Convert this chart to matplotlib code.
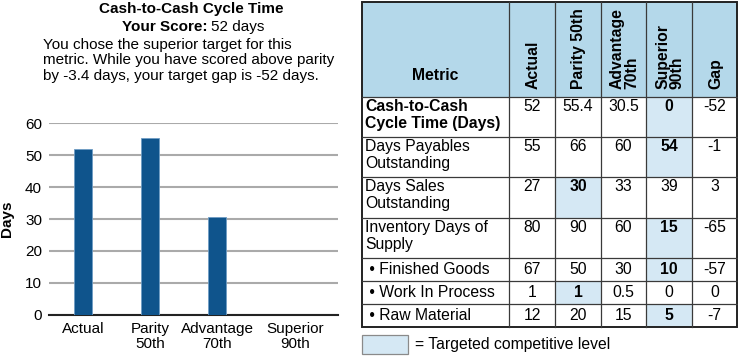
import matplotlib.pyplot as plt
from matplotlib.patches import Rectangle
from matplotlib.transforms import ScaledTranslation

plt.rcParams['font.family'] = ['Liberation Sans', 'DejaVu Sans']

# bar chart data
categories = ['Actual', 'Parity\n50th', 'Advantage\n70th', 'Superior\n90th']
scores = [52, 55.4, 30.5, 0]

# table data
col_headers = ['Actual', 'Parity 50th', 'Advantage\n70th', 'Superior\n90th', 'Gap']
metrics = ['Cash-to-Cash\nCycle Time (Days)', 'Days Payables\nOutstanding',
           'Days Sales\nOutstanding', 'Inventory Days of\nSupply',
           ' \u2022 Finished Goods', ' \u2022 Work In Process', ' \u2022 Raw Material']
actual = [52, 55, 27, 80, 67, 1, 12]
parity = [55.4, 66, 30, 90, 50, 1, 20]
advantage = [30.5, 60, 33, 60, 30, 0.5, 15]
superior = [0, 54, 39, 15, 10, 0, 5]
gap = [-52, -1, 3, -65, -57, 0, -7]
target_col = [3, 3, 1, 3, 3, 1, 3]   # which value column is the targeted level

bar_color = '#0f548c'
head_color = '#b4d8ea'
hi_color = '#d5e8f4'
line_color = '#3a3a3a'
fs = 11
tfs = 11.3

fig = plt.figure(figsize=(7.38, 3.58), dpi=100)
W, H = 738, 358

# ---- bar chart ----
ax = fig.add_axes([49 / W, (H - 315) / H, (338 - 49) / W, (315 - 123) / H])
x = range(len(categories))
ax.bar(x, scores, width=0.27, color=bar_color, edgecolor='#6f9cc4', linewidth=0.6, zorder=3)
ax.set_ylim(0, 60)
ax.set_xlim(-0.51, 3.8)
ax.set_yticks(range(0, 61, 10))
ax.yaxis.grid(True, color='#aaaaaa', linewidth=1.5, zorder=0)
ax.set_xticks(list(x))
ax.set_xticklabels(categories, fontsize=fs, linespacing=1.1)
ax.tick_params(axis='both', length=0, labelsize=fs, pad=5)
for s in ['top', 'right', 'left']:
    ax.spines[s].set_visible(False)
ax.spines['bottom'].set_color('#222222')
ax.spines['bottom'].set_linewidth(1.5)
ax.set_ylabel('Days', fontsize=fs, fontweight='bold', labelpad=8)
# the last label sits a bit right of its slot in the original
lab = ax.get_xticklabels()[-1]
lab.set_transform(lab.get_transform() + ScaledTranslation(0.11, 0, fig.dpi_scale_trans))

# ---- overlay in pixel coords for texts and table ----
ov = fig.add_axes([0, 0, 1, 1], zorder=5)
ov.set_xlim(0, W)
ov.set_ylim(H, 0)
ov.axis('off')
ov.patch.set_alpha(0)

ov.text(191, 9, 'Cash-to-Cash Cycle Time', ha='center', va='center', fontsize=fs, fontweight='bold')
ov.text(207, 27, 'Your Score:', ha='right', va='center', fontsize=fs, fontweight='bold')
ov.text(211, 27, '52 days', ha='left', va='center', fontsize=fs)
ov.text(43, 38, 'You chose the superior target for this\n'
        'metric. While you have scored above parity\n'
        'by -3.4 days, your target gap is -52 days.',
        ha='left', va='top', fontsize=fs, linespacing=1.12)

col_edges = [362, 509, 555, 601, 646, 692, 737]
row_edges = [2, 97, 137, 177, 218, 258, 281, 304, 327]

# header background
ov.add_patch(Rectangle((col_edges[0], row_edges[0]), col_edges[-1] - col_edges[0],
                       row_edges[1] - row_edges[0], facecolor=head_color, edgecolor='none'))
ov.text((col_edges[0] + col_edges[1]) / 2, 76, 'Metric', ha='center', va='center',
        fontsize=tfs, fontweight='bold')
for j, h in enumerate(col_headers):
    cx = (col_edges[j + 1] + col_edges[j + 2]) / 2
    ov.text(cx + 1, 89, h, rotation=90, ha='center', va='bottom', fontsize=tfs,
            fontweight='bold', multialignment='left', linespacing=0.95)

columns = [actual, parity, advantage, superior, gap]
for i, m in enumerate(metrics):
    top, bot = row_edges[i + 1], row_edges[i + 2]
    tall = (bot - top) > 30
    ty = top + 2 if tall else (top + bot) / 2
    va = 'top' if tall else 'center'
    ov.text(col_edges[0] + 3, ty, m, ha='left', va=va, fontsize=tfs,
            fontweight='bold' if i == 0 else 'normal', linespacing=1.15)
    for j, col in enumerate(columns):
        l, r = col_edges[j + 1], col_edges[j + 2]
        hit = target_col[i] == j
        if hit:
            ov.add_patch(Rectangle((l, top), r - l, bot - top, facecolor=hi_color, edgecolor='none'))
        ov.text((l + r) / 2, ty, f'{col[i]:g}', ha='center', va=va, fontsize=tfs,
                fontweight='bold' if hit else 'normal')

# grid lines
for y in row_edges[1:-1]:
    ov.plot([col_edges[0], col_edges[-1]], [y, y], color=line_color, lw=0.9)
for xe in col_edges[1:-1]:
    ov.plot([xe, xe], [row_edges[0], row_edges[-1]], color=line_color, lw=0.9)
ov.add_patch(Rectangle((col_edges[0], row_edges[0]), col_edges[-1] - col_edges[0],
                       row_edges[-1] - row_edges[0], facecolor='none', edgecolor='#222222', lw=1.4))

# legend
ov.add_patch(Rectangle((362, 335), 46, 19, facecolor=hi_color, edgecolor='#8a8a8a', lw=0.9))
ov.text(415, 344.5, '= Targeted competitive level', ha='left', va='center', fontsize=tfs)

fig.savefig('out.png', dpi=100)
